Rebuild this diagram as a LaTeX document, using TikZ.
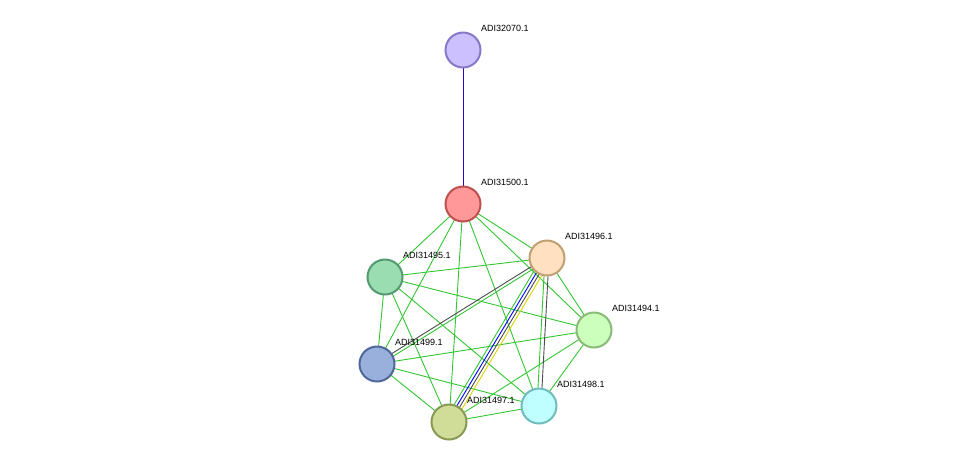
\documentclass[tikz,border=0pt]{standalone}
\usepackage{fontspec}
\setmainfont{Liberation Sans}
\usetikzlibrary{calc}
\definecolor{edgegreen}{HTML}{33C633}
\begin{document}
\begin{tikzpicture}[x=1pt,y=-1pt]
  \tikzset{protein/.style={draw,circle,line width=2pt,minimum size=35pt,inner sep=0pt}}
  \tikzset{tag/.style={anchor=south west,font=\fontsize{9}{10}\selectfont,inner sep=0pt}}
  \tikzset{link/.style={edgegreen,line width=0.9pt}}
  \useasboundingbox (0,0) rectangle (975,467);
  % coordinates of the proteins
  \coordinate (c32070) at (463,50);
  \coordinate (c500) at (463,204);
  \coordinate (c496) at (547,258);
  \coordinate (c495) at (385,277);
  \coordinate (c494) at (594,330);
  \coordinate (c499) at (377,364);
  \coordinate (c498) at (539,406);
  \coordinate (c497) at (449,422);
  % green links
  \foreach \a/\b in {500/496,500/495,500/494,500/499,500/498,500/497,
      495/496,495/494,495/498,495/497,495/499,496/494,
      499/494,499/498,499/497,494/497,494/498,497/498}
    \draw[link] (c\a) -- (c\b);
  \draw[link] ($(c496)!2pt!90:(c499)$) -- ($(c499)!2pt!-90:(c496)$);
  \draw[black!70,line width=0.9pt] ($(c496)!-1pt!90:(c499)$) -- ($(c499)!-1pt!-90:(c496)$);
  \draw[link] ($(c496)!-2pt!90:(c498)$) -- ($(c498)!-2pt!-90:(c496)$);
  \draw[black!70,line width=0.9pt] ($(c496)!2pt!90:(c498)$) -- ($(c498)!2pt!-90:(c496)$);
  \foreach \o/\col in {4.5/yellow!70!olive,1.5/black!70,-1.5/blue,-4.5/edgegreen}
    \draw[\col,line width=0.9pt] ($(c496)!\o pt!90:(c497)$) -- ($(c497)!\o pt!-90:(c496)$);
  \draw[blue!60!violet,line width=0.9pt] (c32070) -- (c500);
  % proteins
  \foreach \n/\f/\s in {32070/CCC0FF/8878C8,500/FF9999/C05050,496/FFE0C0/C0A070,
      495/99DDB0/559970,494/CCFFBB/88BB77,499/99B0DD/506899,497/D0DD99/889955,498/C0FFFF/70BBBB}{
    \definecolor{fillc}{HTML}{\f}\definecolor{strokec}{HTML}{\s}
    \node[protein,fill=fillc,draw=strokec] (p\n) at (c\n) {};
    \node[tag] (t\n) at ($(c\n)+(18,-18)$) {ADI\ifnum\n=32070 \else31\fi\n.1};
  }
\end{tikzpicture}
\end{document}
